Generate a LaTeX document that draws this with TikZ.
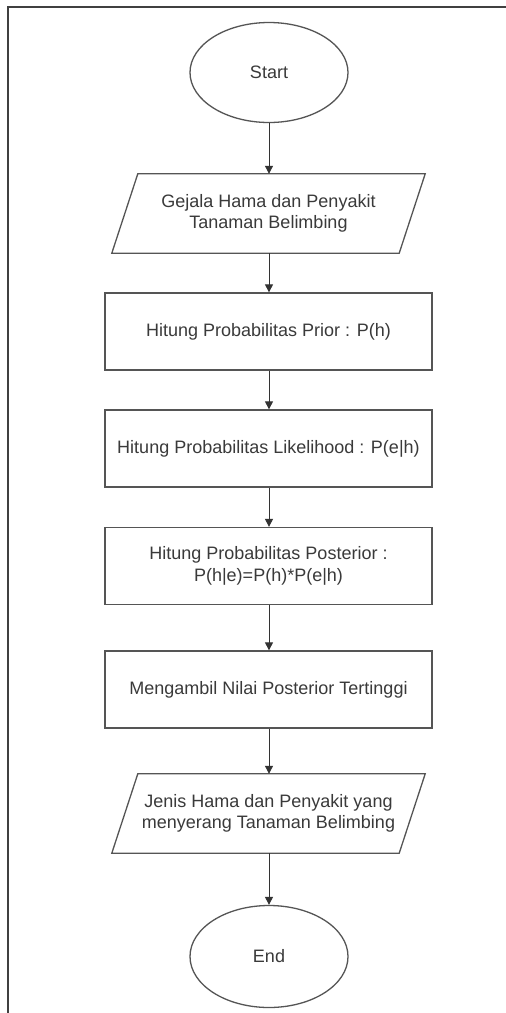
\documentclass[tikz,border=0pt]{standalone}
\usepackage{fontspec}
\setmainfont{Liberation Sans}
\usetikzlibrary{shapes.geometric,arrows.meta}
\definecolor{edge}{HTML}{555555}
\definecolor{txt}{HTML}{3A3A3A}
\begin{document}
\begin{tikzpicture}[x=1pt,y=-1pt,
  every node/.style={font=\fontsize{18}{21.5}\selectfont, text=txt, align=center, inner sep=0pt},
  term/.style={ellipse, draw=edge, line width=1.3pt, minimum width=158, minimum height=100},
  procbox/.style={rectangle, draw=edge, line width=1.3pt, minimum width=327, minimum height=77},
  iobox/.style={rectangle, minimum width=287, minimum height=79},
  ioline/.style={draw=edge, line width=1.3pt, line join=miter},
  arr/.style={draw=black!80, line width=1pt, -{Triangle[length=8pt,width=8pt]}}]
\useasboundingbox (0,0) rectangle (506,1013);
\fill[white] (0,0) rectangle (506,1013);
\draw[black!75, line width=1.5pt] (506,7) -- (8,7) -- (8,1013);

\node[term] (start) at (269,72.5) {Start};
\node[iobox] (in) at (268.5,213.5) {Gejala Hama dan Penyakit\\Tanaman Belimbing};
\node[procbox] (prior) at (268.5,331.5) {Hitung Probabilitas Prior : P(h)};
\node[procbox] (like) at (268.5,448.5) {Hitung Probabilitas Likelihood : P(e|h)};
\node[procbox] (post) at (268.5,566) {Hitung Probabilitas Posterior :\\P(h|e)=P(h)*P(e|h)};
\node[procbox] (max) at (268.5,689.5) {Mengambil Nilai Posterior Tertinggi};
\node[iobox] (out) at (268.5,813.5) {Jenis Hama dan Penyakit yang\\menyerang Tanaman Belimbing};
\node[term, minimum height=102] (end) at (269,956.5) {End};

\foreach \p in {in,out}{
  \draw[ioline] ([xshift=13pt]\p.north west) -- ([xshift=13pt]\p.north east)
    -- ([xshift=-13pt]\p.south east) -- ([xshift=-13pt]\p.south west) -- cycle;
}

\draw[arr] (start.south) -- (start.south |- in.north);
\draw[arr] (start.south |- in.south) -- (start.south |- prior.north);
\draw[arr] (start.south |- prior.south) -- (start.south |- like.north);
\draw[arr] (start.south |- like.south) -- (start.south |- post.north);
\draw[arr] (start.south |- post.south) -- (start.south |- max.north);
\draw[arr] (start.south |- max.south) -- (start.south |- out.north);
\draw[arr] (start.south |- out.south) -- (end.north);
\end{tikzpicture}
\end{document}
